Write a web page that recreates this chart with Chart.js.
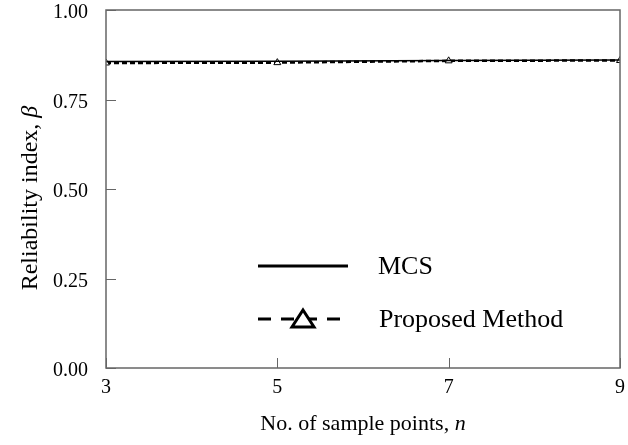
<!DOCTYPE html>
<html>
<head>
<meta charset="utf-8">
<script src="https://cdn.jsdelivr.net/npm/chart.js@4"></script>
<style>
  body { margin: 0; background: #fff; }
  #wrap { width: 628px; height: 445px; }
</style>
</head>
<body>
<div id="wrap"><canvas id="beta"></canvas></div>
<script>
// data
const samplePoints = [3, 5, 7, 9];
const mcsBeta = [0.856, 0.857, 0.859, 0.860];
const proposedBeta = [0.852, 0.853, 0.858, 0.859];
const yTicks = [0, 0.25, 0.5, 0.75, 1];
const seriesNames = ['MCS', 'Proposed Method'];

const serif = '"Liberation Serif", "Times New Roman", serif';
const axisGrey = '#666';

// inner tick marks, frame, axis titles and legend
const decor = {
	id: 'decor',
	afterDraw(chart) {
		const c = chart.ctx;
		const a = chart.chartArea;
		const xs = chart.scales.x, ys = chart.scales.y;
		c.save();
		c.strokeStyle = axisGrey;
		c.lineWidth = 1.5;
		c.strokeRect(a.left, a.top, a.right - a.left, a.bottom - a.top);
		c.lineWidth = 1;
		c.beginPath();
		yTicks.forEach(function(v){
			const y = Math.round(ys.getPixelForValue(v)) + 0.5;
			c.moveTo(a.left, y); c.lineTo(a.left + 10, y);
		});
		samplePoints.forEach(function(v){
			const x = Math.round(xs.getPixelForValue(v)) + 0.5;
			c.moveTo(x, a.bottom); c.lineTo(x, a.bottom - 10);
		});
		c.stroke();

		// x title
		c.fillStyle = '#000';
		c.textBaseline = 'middle';
		const t1 = 'No. of sample points, ';
		c.font = '22px ' + serif;
		const w1 = c.measureText(t1).width;
		c.font = 'italic 22px ' + serif;
		const w2 = c.measureText('n').width;
		let sx = (a.left + a.right) / 2 - (w1 + w2) / 2;
		c.font = '22px ' + serif;
		c.textAlign = 'left';
		c.fillText(t1, sx, 424);
		c.font = 'italic 22px ' + serif;
		c.fillText('n', sx + w1, 424);

		// y title
		c.save();
		c.translate(31, 198);
		c.rotate(-Math.PI / 2);
		const t2 = 'Reliability index, ';
		c.font = '24px ' + serif;
		const w3 = c.measureText(t2).width;
		c.font = 'italic 24px ' + serif;
		const w4 = c.measureText('\u03b2').width;
		sx = -(w3 + w4) / 2;
		c.font = '24px ' + serif;
		c.fillText(t2, sx, 0);
		c.font = 'italic 24px ' + serif;
		c.fillText('\u03b2', sx + w3, 0);
		c.restore();

		// legend
		c.strokeStyle = '#000';
		c.lineWidth = 3;
		c.beginPath();
		c.moveTo(258, 266); c.lineTo(348, 266);
		c.stroke();
		c.setLineDash([13, 10]);
		c.beginPath();
		c.moveTo(258, 319); c.lineTo(348, 319);
		c.stroke();
		c.setLineDash([]);
		c.fillStyle = '#fff';
		c.beginPath();
		c.moveTo(303, 310); c.lineTo(314, 327); c.lineTo(292, 327); c.closePath();
		c.fill(); c.stroke();
		c.fillStyle = '#000';
		c.font = '26px ' + serif;
		c.textAlign = 'left';
		c.fillText(seriesNames[0], 378, 267);
		c.fillText(seriesNames[1], 379, 320);
		c.restore();
	}
};

const ctx = document.getElementById('beta');
const betaChart = new Chart(ctx, {
	type: 'line',
	data: {
		datasets: [{
			label: seriesNames[0],
			data: samplePoints.map(function(n, i){ return {x: n, y: mcsBeta[i]}; }),
			borderColor: '#000',
			borderWidth: 1.5,
			pointRadius: 0,
			tension: 0
		}, {
			label: seriesNames[1],
			data: samplePoints.map(function(n, i){ return {x: n, y: proposedBeta[i]}; }),
			borderColor: '#000',
			borderWidth: 2.5,
			borderDash: [5, 3],
			pointStyle: 'triangle',
			pointRadius: 4,
			pointBackgroundColor: '#fff',
			pointBorderColor: '#000',
			pointBorderWidth: 1,
			tension: 0
		}]
	},
	options: {
		responsive: true,
		maintainAspectRatio: false,
		animation: false,
		layout: { padding: { top: 10, right: 8, left: 0, bottom: 0 } },
		plugins: { legend: { display: false }, tooltip: { enabled: false } },
		scales: {
			x: {
				type: 'linear',
				min: 3, max: 9,
				afterBuildTicks: function(s){ s.ticks = samplePoints.map(function(v){ return {value: v}; }); },
				afterFit: function(s){ s.height = 77; s.paddingLeft = 0; s.paddingRight = 0; },
				grid: { display: false, drawTicks: false },
				border: { display: false },
				ticks: { color: '#000', font: { family: serif, size: 20 }, padding: 8 }
			},
			y: {
				min: 0, max: 1,
				afterBuildTicks: function(s){ s.ticks = yTicks.map(function(v){ return {value: v}; }); },
				afterFit: function(s){ s.width = 106; s.paddingTop = 0; s.paddingBottom = 0; },
				grid: { display: false, drawTicks: false },
				border: { display: false },
				ticks: {
					color: '#000', font: { family: serif, size: 20 }, padding: 18, labelOffset: 3,
					callback: function(v){ return v.toFixed(2); }
				}
			}
		}
	},
	plugins: [decor]
});
</script>
</body>
</html>
